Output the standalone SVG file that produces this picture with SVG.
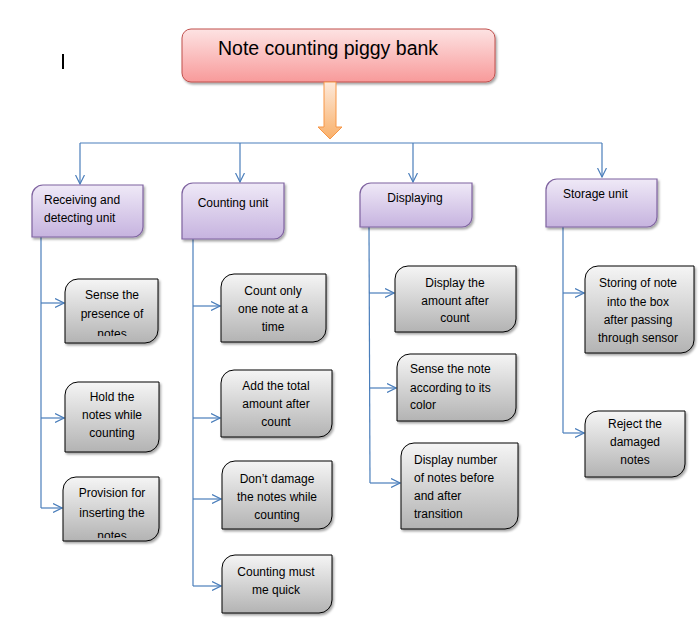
<svg xmlns="http://www.w3.org/2000/svg" width="700" height="619" viewBox="0 0 700 619">
<style>
text{font-family:"Liberation Sans",Arial,sans-serif;fill:#000}
.t{font-size:19.5px}
.u{font-size:12px}
.c{font-size:12px;text-anchor:middle}
.con{stroke:#4a7ebb;stroke-width:1.2;fill:none}
.lav{fill:url(#gLav);stroke:#7f63a0;stroke-width:1.2}
.gry{fill:url(#gGry);stroke:#000;stroke-width:1}
</style>
<defs>
<linearGradient id="gTitle" x1="0" y1="0" x2="0" y2="1"><stop offset="0" stop-color="#fde3e3"/><stop offset="1" stop-color="#f89a9a"/></linearGradient>
<linearGradient id="gArr" x1="0" y1="0" x2="0" y2="1"><stop offset="0" stop-color="#fde9da"/><stop offset="1" stop-color="#f9b06a"/></linearGradient>
<linearGradient id="gLav" x1="0" y1="0" x2="0" y2="1"><stop offset="0" stop-color="#efe9f7"/><stop offset="1" stop-color="#c6b3df"/></linearGradient>
<linearGradient id="gGry" x1="0" y1="0" x2="0" y2="1"><stop offset="0" stop-color="#f5f5f5"/><stop offset="1" stop-color="#b3b3b3"/></linearGradient>
<filter id="sh" x="-10%" y="-10%" width="130%" height="130%"><feDropShadow dx="1.5" dy="2" stdDeviation="1.2" flood-color="#000" flood-opacity="0.35"/></filter>
<marker id="ar" viewBox="0 0 10 10" refX="9" refY="5" markerWidth="10" markerHeight="10" markerUnits="userSpaceOnUse" orient="auto"><path d="M0,0.5 L9,5 L0,9.5" fill="none" stroke="#4a7ebb" stroke-width="1.2"/></marker>
<clipPath id="cSense"><rect x="60" y="275" width="110" height="61"/></clipPath>
<clipPath id="cProv"><rect x="60" y="470" width="110" height="68"/></clipPath>
<clipPath id="cStor"><rect x="580" y="260" width="120" height="84"/></clipPath>
</defs>
<rect width="700" height="619" fill="#fff"/>
<rect x="62" y="54" width="2" height="15" fill="#000"/>

<g id="connectors">
<path class="con" d="M80,143 H602"/>
<path class="con" d="M80,143 V184" marker-end="url(#ar)"/>
<path class="con" d="M240,143 V182" marker-end="url(#ar)"/>
<path class="con" d="M413,143 V182" marker-end="url(#ar)"/>
<path class="con" d="M602,143 V177" marker-end="url(#ar)"/>
<path class="con" d="M41,237 V508"/>
<path class="con" d="M41,303 H64" marker-end="url(#ar)"/>
<path class="con" d="M41,418 H64" marker-end="url(#ar)"/>
<path class="con" d="M41,508 H62" marker-end="url(#ar)"/>
<path class="con" d="M193,239 V586"/>
<path class="con" d="M193,306 H220" marker-end="url(#ar)"/>
<path class="con" d="M193,418 H220" marker-end="url(#ar)"/>
<path class="con" d="M193,499 H221" marker-end="url(#ar)"/>
<path class="con" d="M193,586 H221" marker-end="url(#ar)"/>
<path class="con" d="M369,227 L370,483"/>
<path class="con" d="M369,293 H394" marker-end="url(#ar)"/>
<path class="con" d="M370,388 H396" marker-end="url(#ar)"/>
<path class="con" d="M370,483 H400" marker-end="url(#ar)"/>
<path class="con" d="M563,227 V433"/>
<path class="con" d="M563,293 H584" marker-end="url(#ar)"/>
<path class="con" d="M563,433 H584" marker-end="url(#ar)"/>
</g>

<g id="title">
<rect x="182" y="29" width="313" height="53" rx="9" fill="url(#gTitle)" stroke="#c0504d" stroke-width="1" filter="url(#sh)"/>
<text class="t" x="218" y="55">Note counting piggy bank</text>
</g>
<g id="bigarrow">
<path d="M324,82 H336 V127 H342 L330,139 L318,127 H324 Z" fill="url(#gArr)" stroke="#f79646" stroke-width="1"/>
</g>

<g id="receiving">
<path class="lav" filter="url(#sh)" d="M43,185 H143 V227 A10,10 0 0 1 133,237 H32 V196 A11,11 0 0 1 43,185 Z"/>
<text class="u" x="44" y="204">Receiving and</text>
<text class="u" x="44" y="222">detecting unit</text>
</g>
<g id="counting">
<path class="lav" filter="url(#sh)" d="M193,183 H284 V229 A10,10 0 0 1 274,239 H182 V194 A11,11 0 0 1 193,183 Z"/>
<text class="c" x="233" y="207">Counting unit</text>
</g>
<g id="displaying">
<path class="lav" filter="url(#sh)" d="M371,183 H472 V217 A10,10 0 0 1 462,227 H360 V194 A11,11 0 0 1 371,183 Z"/>
<text class="c" x="415" y="202">Displaying</text>
</g>
<g id="storage">
<path class="lav" filter="url(#sh)" d="M557,179 H657 V217 A10,10 0 0 1 647,227 H546 V190 A11,11 0 0 1 557,179 Z"/>
<text class="u" x="563" y="198">Storage unit</text>
</g>

<g id="sense">
<path class="gry" filter="url(#sh)" d="M78,279 H158 V330 A13,13 0 0 1 145,343 H65 V292 A13,13 0 0 1 78,279 Z"/>
<g clip-path="url(#cSense)">
<text class="c" x="112" y="299">Sense the</text>
<text class="c" x="112" y="318">presence of</text>
<text class="c" x="112" y="338">notes</text>
</g>
</g>
<g id="hold">
<path class="gry" filter="url(#sh)" d="M78,382 H159 V439 A13,13 0 0 1 146,452 H65 V395 A13,13 0 0 1 78,382 Z"/>
<text class="c" x="112" y="401">Hold the</text>
<text class="c" x="112" y="419">notes while</text>
<text class="c" x="112" y="437">counting</text>
</g>
<g id="provision">
<path class="gry" filter="url(#sh)" d="M76,477 H159 V528 A13,13 0 0 1 146,541 H63 V490 A13,13 0 0 1 76,477 Z"/>
<g clip-path="url(#cProv)">
<text class="c" x="112" y="497">Provision for</text>
<text class="c" x="112" y="517">inserting the</text>
<text class="c" x="112" y="540">notes</text>
</g>
</g>

<g id="countonly">
<path class="gry" filter="url(#sh)" d="M234,274 H326 V329 A13,13 0 0 1 313,342 H221 V287 A13,13 0 0 1 234,274 Z"/>
<text class="c" x="273" y="295">Count only</text>
<text class="c" x="273" y="313">one note at a</text>
<text class="c" x="273" y="331">time</text>
</g>
<g id="addtotal">
<path class="gry" filter="url(#sh)" d="M234,370 H332 V424 A13,13 0 0 1 319,437 H221 V383 A13,13 0 0 1 234,370 Z"/>
<text class="c" x="276" y="390">Add the total</text>
<text class="c" x="276" y="408">amount after</text>
<text class="c" x="276" y="426">count</text>
</g>
<g id="dontdamage">
<path class="gry" filter="url(#sh)" d="M235,461 H332 V516 A13,13 0 0 1 319,529 H222 V474 A13,13 0 0 1 235,461 Z"/>
<text class="c" x="277" y="483">Don’t damage</text>
<text class="c" x="277" y="501">the notes while</text>
<text class="c" x="277" y="519">counting</text>
</g>
<g id="quick">
<path class="gry" filter="url(#sh)" d="M235,555 H332 V600 A13,13 0 0 1 319,613 H222 V568 A13,13 0 0 1 235,555 Z"/>
<text class="c" x="276" y="576">Counting must</text>
<text class="c" x="276" y="594">me quick</text>
</g>

<g id="displayamount">
<path class="gry" filter="url(#sh)" d="M408,266 H516 V319 A13,13 0 0 1 503,332 H395 V279 A13,13 0 0 1 408,266 Z"/>
<text class="c" x="455" y="287">Display the</text>
<text class="c" x="455" y="305">amount after</text>
<text class="c" x="455" y="322">count</text>
</g>
<g id="sensenote">
<path class="gry" filter="url(#sh)" d="M410,354 H516 V408 A13,13 0 0 1 503,421 H397 V367 A13,13 0 0 1 410,354 Z"/>
<text class="u" x="410" y="373">Sense the note</text>
<text class="u" x="410" y="392">according to its</text>
<text class="u" x="410" y="409">color</text>
</g>
<g id="displaynumber">
<path class="gry" filter="url(#sh)" d="M414,443 H518 V516 A13,13 0 0 1 505,529 H401 V456 A13,13 0 0 1 414,443 Z"/>
<text class="u" x="414" y="464">Display number</text>
<text class="u" x="414" y="482">of notes before</text>
<text class="u" x="414" y="500">and after</text>
<text class="u" x="414" y="518">transition</text>
</g>

<g id="storing">
<path class="gry" filter="url(#sh)" d="M598,266 H694 V340 A13,13 0 0 1 681,353 H585 V279 A13,13 0 0 1 598,266 Z"/>
<g clip-path="url(#cStor)">
<text class="c" x="638" y="287">Storing of note</text>
<text class="c" x="638" y="306">into the box</text>
<text class="c" x="638" y="324">after passing</text>
<text class="c" x="638" y="342">through sensor</text>
</g>
</g>
<g id="reject">
<path class="gry" filter="url(#sh)" d="M598,411 H685 V464 A13,13 0 0 1 672,477 H585 V424 A13,13 0 0 1 598,411 Z"/>
<text class="c" x="635" y="428">Reject the</text>
<text class="c" x="635" y="446">damaged</text>
<text class="c" x="635" y="464">notes</text>
</g>
</svg>
